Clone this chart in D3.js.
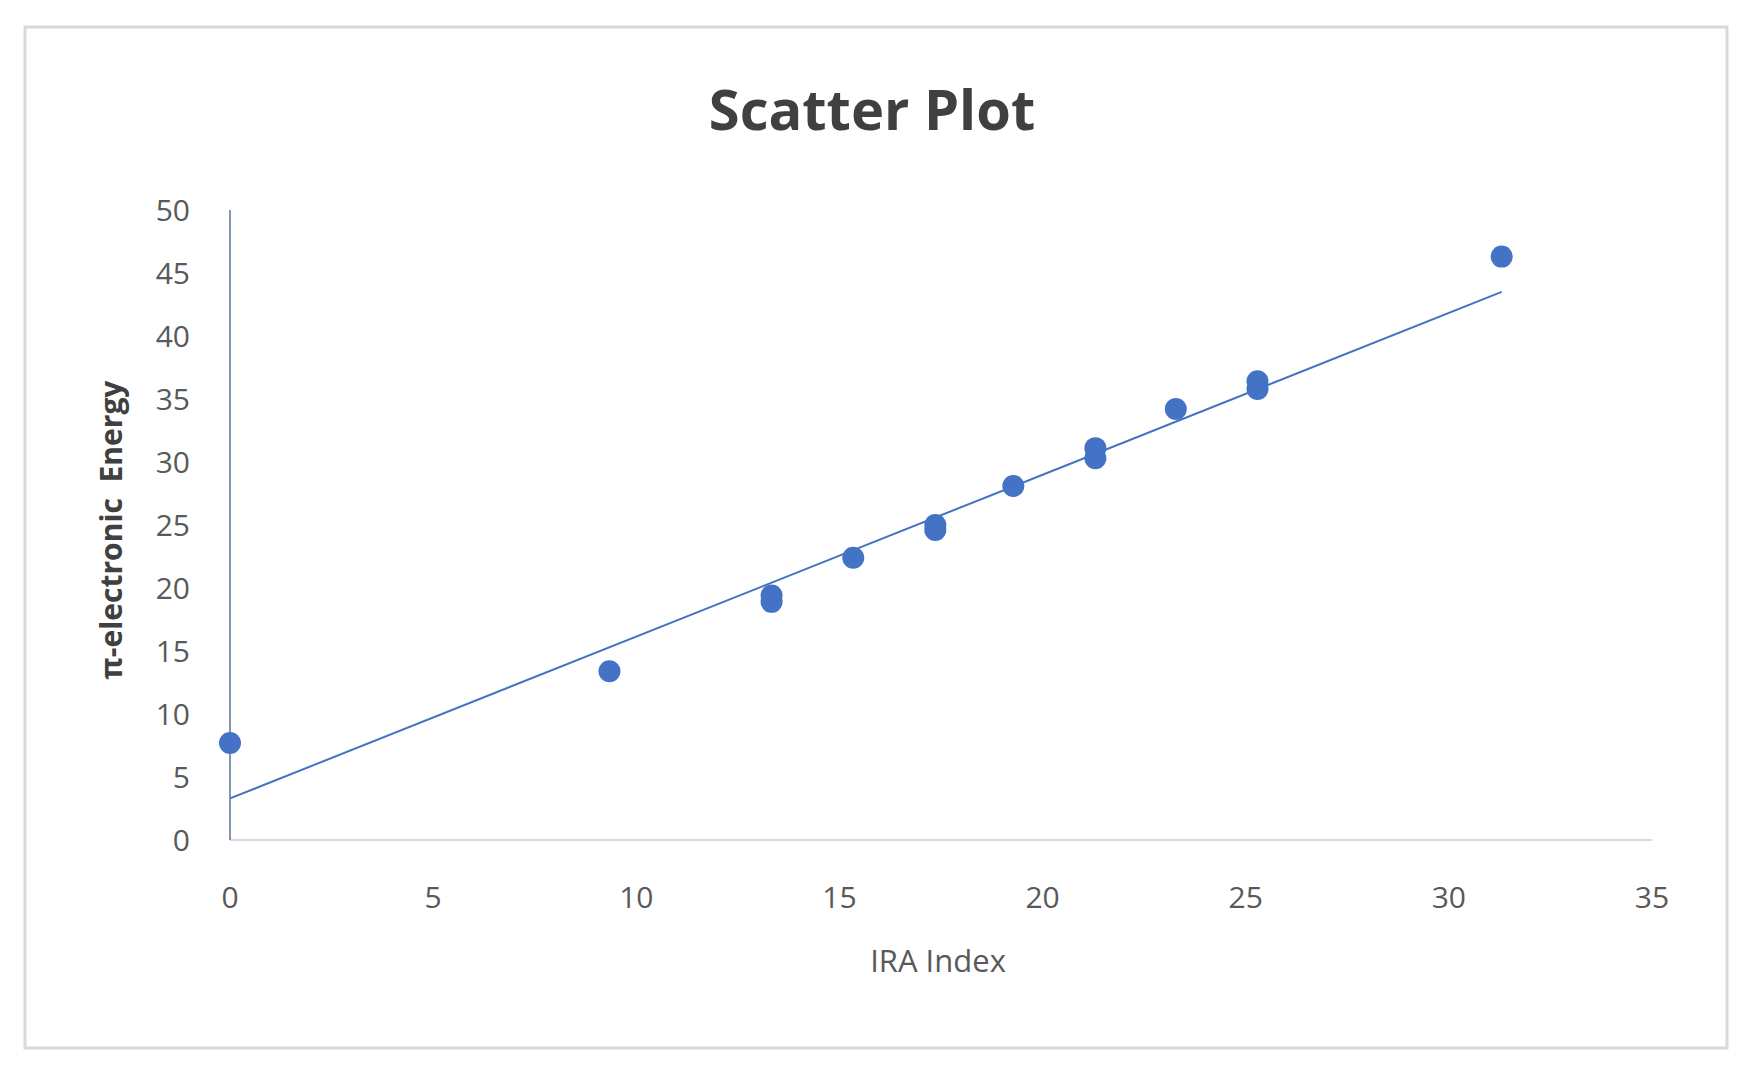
<!DOCTYPE html>
<html><head><meta charset="utf-8">
<script src="https://cdn.jsdelivr.net/npm/d3@7"></script>
<style>body{margin:0;background:#fff}</style>
</head><body><div id="chart"></div>
<script>
var xValues = [0, 9.34, 13.33, 13.33, 15.34, 17.36, 17.36, 19.28, 21.3, 21.3, 23.28, 25.29, 25.29, 31.3];
var yValues = [7.7, 13.4, 19.4, 18.9, 22.4, 25.0, 24.6, 28.1, 31.1, 30.3, 34.2, 36.4, 35.8, 46.3];
var trendX = [0, 31.3];
var trendY = [3.3, 43.5];
var xTicks = [0, 5, 10, 15, 20, 25, 30, 35];
var yTicks = [0, 5, 10, 15, 20, 25, 30, 35, 40, 45, 50];

var w = 1746, h = 1088;
var svg = d3.select("#chart").append("svg").attr("width", w).attr("height", h);

svg.append("rect").attr("x", 25).attr("y", 27).attr("width", 1702).attr("height", 1021)
    .attr("fill", "#fff").attr("stroke", "#d9d9d9").attr("stroke-width", 3);

var x = d3.scaleLinear().domain([0, 35]).range([230, 1652]);
var y = d3.scaleLinear().domain([0, 50]).range([840, 210]);

svg.append("text").attr("x", 872).attr("y", 130).attr("text-anchor", "middle")
    .attr("font-family", "Open Sans, sans-serif").attr("font-weight", "bold")
    .attr("font-size", 56).attr("fill", "#404040").text("Scatter Plot");

// x axis baseline
svg.append("line").attr("x1", x(0)).attr("x2", x(35)).attr("y1", y(0)).attr("y2", y(0))
    .attr("stroke", "#d9d9d9").attr("stroke-width", 2);
// y axis line
svg.append("line").attr("x1", x(0)).attr("x2", x(0)).attr("y1", y(0)).attr("y2", y(50))
    .attr("stroke", "#8497b0").attr("stroke-width", 2);

svg.selectAll("text.xt").data(xTicks).enter().append("text").attr("class", "xt")
    .attr("x", function(d) { return x(d); }).attr("y", 908).attr("text-anchor", "middle")
    .attr("font-family", "Open Sans, sans-serif").attr("font-size", 30).attr("fill", "#595959")
    .text(function(d) { return d; });

svg.selectAll("text.yt").data(yTicks).enter().append("text").attr("class", "yt")
    .attr("x", 190).attr("y", function(d) { return y(d); }).attr("dy", ".35em")
    .attr("text-anchor", "end")
    .attr("font-family", "Open Sans, sans-serif").attr("font-size", 30).attr("fill", "#595959")
    .text(function(d) { return d; });

svg.append("text").attr("x", 938).attr("y", 972).attr("text-anchor", "middle")
    .attr("font-family", "Open Sans, sans-serif").attr("font-size", 31).attr("fill", "#595959")
    .text("IRA Index");

svg.append("text").attr("transform", "translate(122,530) rotate(-90)").attr("text-anchor", "middle")
    .attr("font-family", "Open Sans, sans-serif").attr("font-weight", "bold")
    .attr("font-size", 30).attr("fill", "#404040").attr("xml:space", "preserve")
    .text("π-electronic  Energy");

svg.append("line")
    .attr("x1", x(trendX[0])).attr("y1", y(trendY[0]))
    .attr("x2", x(trendX[1])).attr("y2", y(trendY[1]))
    .attr("stroke", "#4472c4").attr("stroke-width", 2);

svg.selectAll("circle").data(xValues).enter().append("circle")
    .attr("cx", function(d) { return x(d); })
    .attr("cy", function(d, i) { return y(yValues[i]); })
    .attr("r", 11).attr("fill", "#4472c4");
</script></body></html>
